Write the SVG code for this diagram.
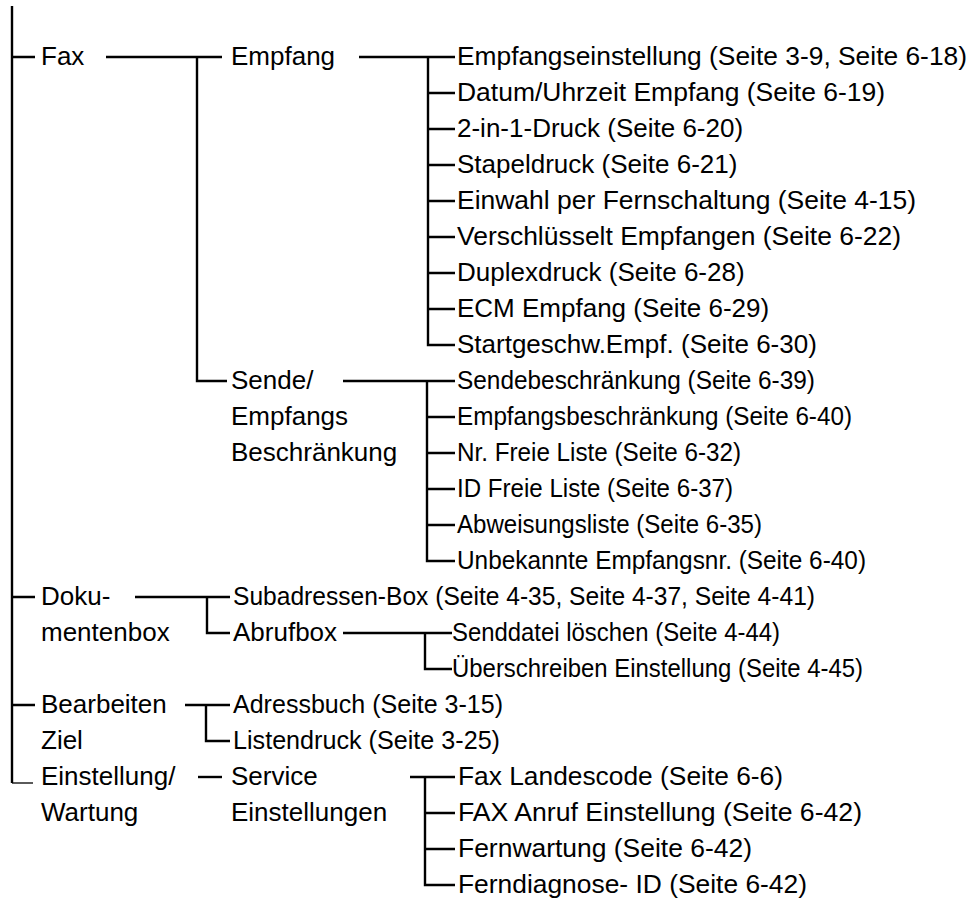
<svg xmlns="http://www.w3.org/2000/svg" width="978" height="899" viewBox="0 0 978 899">
<style>
text{font-family:"Liberation Sans",Arial,Helvetica,sans-serif;font-size:26px;fill:#000}
.c path{fill:none;stroke:#000;stroke-width:2.4}
.c .thin{stroke-width:1.3}
</style>
<rect width="978" height="899" fill="#fff"/>
<g class="c" id="connectors">
<path d="M12,6V783"/>
<path class="thin" d="M12,783H33"/>
<path d="M12,57H35M12,597H35M12,705H35"/>
<path d="M106,57H222M197,57V381H227"/>
<path d="M359,57H455M428,57V345H455M428,93H455M428,129H455M428,165H455M428,201H455M428,237H455M428,273H455M428,309H455"/>
<path d="M343,381H455M427,381V561H455M427,417H455M427,453H455M427,489H455M427,525H455"/>
<path d="M135,597H230M207,597V633H230"/>
<path d="M343,633H452M425,633V669H452"/>
<path d="M185,705H230M206,705V741H230"/>
<path d="M198,777H222"/>
<path d="M410,777H455M425,777V885H455M425,813H455M425,849H455"/>
</g>
<g id="fax"><text x="41" y="65">Fax</text></g>
<g id="empfang"><text x="231" y="65">Empfang</text></g>
<g id="empfang-items">
<text x="457" y="65" textLength="510" lengthAdjust="spacingAndGlyphs">Empfangseinstellung (Seite 3-9, Seite 6-18)</text>
<text x="457" y="101" textLength="428" lengthAdjust="spacingAndGlyphs">Datum/Uhrzeit Empfang (Seite 6-19)</text>
<text x="457" y="137">2-in-1-Druck (Seite 6-20)</text>
<text x="457" y="173">Stapeldruck (Seite 6-21)</text>
<text x="457" y="209" textLength="459" lengthAdjust="spacingAndGlyphs">Einwahl per Fernschaltung (Seite 4-15)</text>
<text x="457" y="245" textLength="444" lengthAdjust="spacingAndGlyphs">Verschlüsselt Empfangen (Seite 6-22)</text>
<text x="457" y="281">Duplexdruck (Seite 6-28)</text>
<text x="457" y="317">ECM Empfang (Seite 6-29)</text>
<text x="457" y="353">Startgeschw.Empf. (Seite 6-30)</text>
</g>
<g id="sende"><text x="231" y="389">Sende/</text><text x="231" y="425">Empfangs</text><text x="231" y="461">Beschränkung</text></g>
<g id="sende-items">
<text x="457" y="389" textLength="358" lengthAdjust="spacingAndGlyphs">Sendebeschränkung (Seite 6-39)</text>
<text x="457" y="425" textLength="395" lengthAdjust="spacingAndGlyphs">Empfangsbeschränkung (Seite 6-40)</text>
<text x="457" y="461" textLength="284" lengthAdjust="spacingAndGlyphs">Nr. Freie Liste (Seite 6-32)</text>
<text x="457" y="497" textLength="276" lengthAdjust="spacingAndGlyphs">ID Freie Liste (Seite 6-37)</text>
<text x="457" y="533" textLength="305" lengthAdjust="spacingAndGlyphs">Abweisungsliste (Seite 6-35)</text>
<text x="457" y="569" textLength="409" lengthAdjust="spacingAndGlyphs">Unbekannte Empfangsnr. (Seite 6-40)</text>
</g>
<g id="doku"><text x="41" y="605">Doku-</text><text x="41" y="641">mentenbox</text></g>
<g id="subadressen"><text x="233" y="605" textLength="582" lengthAdjust="spacingAndGlyphs">Subadressen-Box (Seite 4-35, Seite 4-37, Seite 4-41)</text></g>
<g id="abrufbox"><text x="233" y="641">Abrufbox</text></g>
<g id="abruf-items">
<text x="452" y="641" textLength="328" lengthAdjust="spacingAndGlyphs">Senddatei löschen (Seite 4-44)</text>
<text x="452" y="677" textLength="411" lengthAdjust="spacingAndGlyphs">Überschreiben Einstellung (Seite 4-45)</text>
</g>
<g id="bearbeiten"><text x="41" y="713">Bearbeiten</text><text x="41" y="749">Ziel</text></g>
<g id="bearbeiten-items">
<text x="233" y="713" textLength="270" lengthAdjust="spacingAndGlyphs">Adressbuch (Seite 3-15)</text>
<text x="233" y="749" textLength="267" lengthAdjust="spacingAndGlyphs">Listendruck (Seite 3-25)</text>
</g>
<g id="einstellung"><text x="41" y="785">Einstellung/</text><text x="41" y="821">Wartung</text></g>
<g id="service"><text x="231" y="785">Service</text><text x="231" y="821">Einstellungen</text></g>
<g id="service-items">
<text x="458" y="785" textLength="325" lengthAdjust="spacingAndGlyphs">Fax Landescode (Seite 6-6)</text>
<text x="458" y="821" textLength="404" lengthAdjust="spacingAndGlyphs">FAX Anruf Einstellung (Seite 6-42)</text>
<text x="458" y="857" textLength="294" lengthAdjust="spacingAndGlyphs">Fernwartung (Seite 6-42)</text>
<text x="458" y="893" textLength="349" lengthAdjust="spacingAndGlyphs">Ferndiagnose- ID (Seite 6-42)</text>
</g>
</svg>
